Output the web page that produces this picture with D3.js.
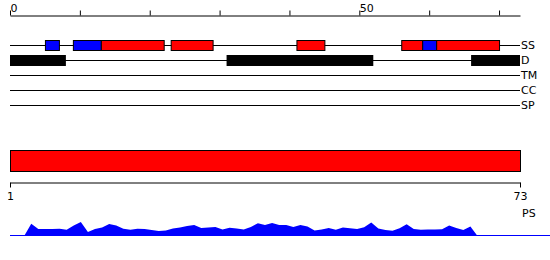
<!DOCTYPE html>
<html>
<head>
<meta charset="utf-8">
<script src="https://cdn.jsdelivr.net/npm/d3@7"></script>
<style>
body { margin: 0; background: #fff; }
svg text { font-family: "DejaVu Sans", Verdana, sans-serif; font-size: 11px; fill: #000; }
</style>
</head>
<body>
<div id="chart"></div>
<script>
var W = 550, H = 260;
var SEQ_LENGTH = 73;

// ruler on top
var topTicks = [0, 10, 20, 30, 40, 50, 60, 70];
var topLabels = [0, 50];

// feature tracks, top to bottom
var trackNames = ['SS', 'D', 'TM', 'CC', 'SP'];
// secondary structure: [start, end, kind] ; E = strand (blue), H = helix (red)
var ssFeatures = [[5, 7, 'E'], [9, 13, 'E'], [13, 22, 'H'], [23, 29, 'H'], [41, 45, 'H'],
    [56, 59, 'H'], [59, 61, 'E'], [61, 70, 'H']];
// disorder regions: [start, end]
var disorderFeatures = [[0, 8], [31, 52], [66, 73]];

// PS domain bar and its ruler
var psDomain = [1, 73];
var psLabel = 'PS';

// profile under the domain bar, one value per residue from psStart
var psStart = 3;
var psValues = [0, 12.3, 7, 7, 7, 7.3, 6.3, 10.5, 14, 4, 7, 8.5, 12, 10.5, 7.3, 6.3,
    7.2, 7, 6, 5, 5.5, 7.6, 8.5, 10, 11, 8, 8.5, 9, 6.5, 8.3, 7.5, 6.5,
    9, 12.7, 11, 13, 11, 11, 9, 11, 9.5, 5.5, 6.5, 8, 6.3, 8.5, 7.8, 7,
    8.7, 13.5, 7.5, 6, 5.2, 7.8, 11.7, 7, 6.3, 6.4, 6.6, 6.8, 10.4, 8, 6, 9.6, 0];

var COLORS = { E: '#0000ff', H: '#ff0000' };

var svg = d3.select('#chart')
    .append('svg')
    .attr('width', W)
    .attr('height', H);

var x = d3.scaleLinear().domain([0, SEQ_LENGTH]).range([10, 520]);
var xb = d3.scaleLinear().domain(psDomain).range([10, 520]);
var track = d3.scalePoint().domain(trackNames).range([45, 105]);

// top ruler
var topAxis = d3.axisTop(x)
    .tickValues(topTicks)
    .tickSize(5)
    .tickSizeOuter(0)
    .tickFormat(function (d) {
        return topLabels.indexOf(d) >= 0 ? d : '';
    });
var ta = svg.append('g')
    .attr('transform', 'translate(0,15.5)')
    .call(topAxis);
ta.select('.domain').attr('stroke', '#000');
ta.selectAll('.tick line').attr('stroke', '#000');
ta.selectAll('.tick text')
    .attr('text-anchor', 'start')
    .attr('y', -4)
    .attr('dy', 0)
    .attr('font-size', null)
    .attr('font-family', null);

// track baselines + labels
var tracks = svg.selectAll('.track')
    .data(trackNames)
    .enter()
    .append('g')
    .attr('class', 'track');
tracks.append('line')
    .attr('x1', x(0)).attr('x2', x(SEQ_LENGTH))
    .attr('y1', function (d) { return track(d) + 0.5; })
    .attr('y2', function (d) { return track(d) + 0.5; })
    .attr('stroke', '#000');
tracks.append('text')
    .attr('x', x(SEQ_LENGTH) + 1)
    .attr('y', function (d) { return track(d); })
    .attr('dy', '0.38em')
    .text(function (d) { return d; });

// secondary structure boxes
svg.selectAll('.ss')
    .data(ssFeatures)
    .enter()
    .append('rect')
    .attr('class', 'ss')
    .attr('x', function (d) { return x(d[0]) + 0.5; })
    .attr('width', function (d) { return x(d[1]) - x(d[0]); })
    .attr('y', track('SS') - 4.5)
    .attr('height', 10)
    .attr('fill', function (d) { return COLORS[d[2]]; })
    .attr('stroke', '#000');

// disorder boxes
svg.selectAll('.dis')
    .data(disorderFeatures)
    .enter()
    .append('rect')
    .attr('class', 'dis')
    .attr('x', function (d) { return x(d[0]); })
    .attr('width', function (d) { return x(d[1]) - x(d[0]); })
    .attr('y', track('D') - 5)
    .attr('height', 11)
    .attr('fill', '#000');

// PS domain bar
svg.append('rect')
    .attr('x', xb(psDomain[0]) + 0.5)
    .attr('width', xb(psDomain[1]) - xb(psDomain[0]))
    .attr('y', 150.5)
    .attr('height', 21)
    .attr('fill', '#ff0000')
    .attr('stroke', '#000');

var bottomAxis = d3.axisBottom(xb)
    .tickValues(psDomain)
    .tickSize(5)
    .tickSizeOuter(0);
var ba = svg.append('g')
    .attr('transform', 'translate(0,182.5)')
    .call(bottomAxis);
ba.select('.domain').attr('stroke', '#000');
ba.selectAll('.tick line').attr('stroke', '#000');
ba.selectAll('.tick text')
    .attr('y', 10)
    .attr('font-size', null)
    .attr('font-family', null);
svg.append('text')
    .attr('x', xb(psDomain[1]) + 2)
    .attr('y', 217)
    .text(psLabel);

// profile
var yp = d3.scaleLinear().domain([0, 15]).range([236, 221]);
var area = d3.area()
    .x(function (d, i) { return xb(psStart + i); })
    .y0(yp(0))
    .y1(function (d) { return yp(d); });
svg.append('path')
    .datum(psValues)
    .attr('d', area)
    .attr('fill', '#0000ff');
svg.append('line')
    .attr('x1', xb(psDomain[0])).attr('x2', W)
    .attr('y1', yp(0) - 0.5).attr('y2', yp(0) - 0.5)
    .attr('stroke', '#0000ff');
</script>
</body>
</html>
